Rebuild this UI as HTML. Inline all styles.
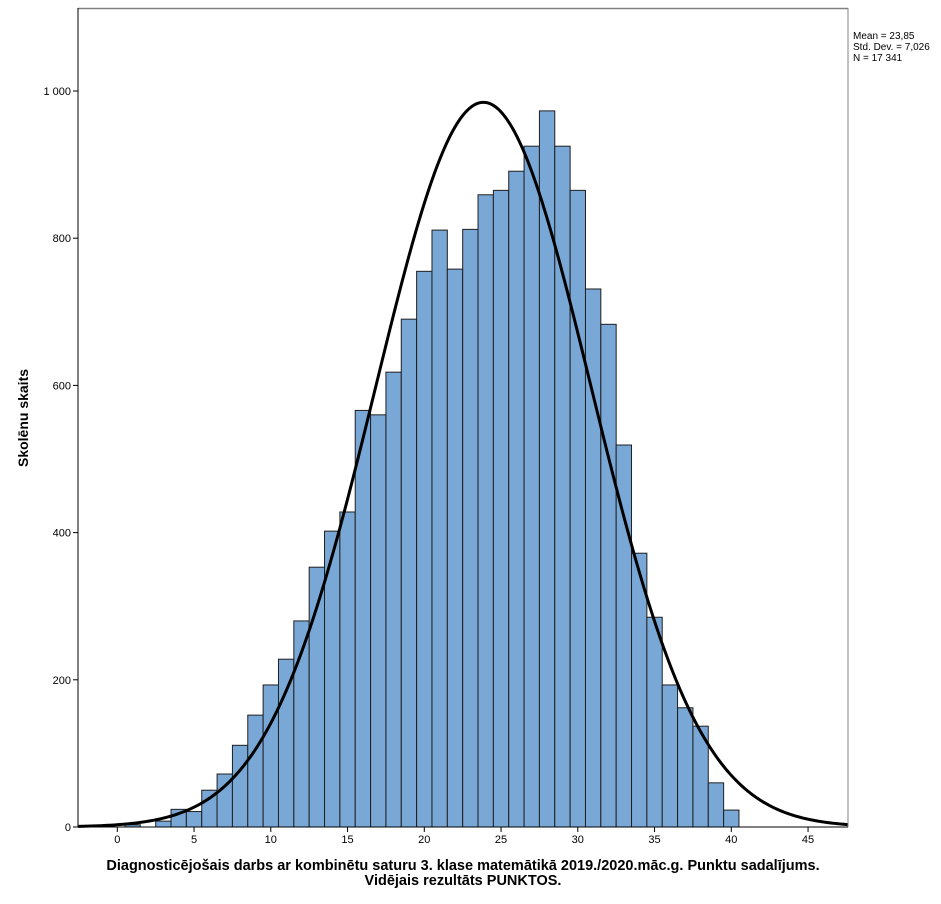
<!DOCTYPE html>
<html><head><meta charset="utf-8"><style>
body{margin:0;background:#fff}
svg{display:block;font-family:"Liberation Sans",Arial,sans-serif}
</style></head><body>
<svg id="s" width="941" height="904" viewBox="0 0 941 904" xmlns="http://www.w3.org/2000/svg">
<rect x="0" y="0" width="941" height="904" fill="#fff"/>
<g id="bars" fill="#79a7d6" stroke="#1f1f1f" stroke-width="1"></g>
<path id="curve" fill="none" stroke="#000" stroke-width="3"/>
<line x1="78" y1="8.5" x2="848" y2="8.5" stroke="#808080" stroke-width="1.5"/>
<line x1="848" y1="8" x2="848" y2="827" stroke="#808080" stroke-width="1"/>
<line x1="78" y1="8" x2="78" y2="827" stroke="#000" stroke-width="1"/>
<line x1="78" y1="827" x2="848" y2="827" stroke="#000" stroke-width="1"/>
<g id="ticks" stroke="#000" stroke-width="1"></g>
<g id="labels" font-size="11" fill="#000"></g>
<text x="28" y="418" font-size="14" font-weight="bold" text-anchor="middle" transform="rotate(-90 28 418)">Skolēnu skaits</text>
<text x="463" y="870" font-size="14.5" font-weight="bold" text-anchor="middle">Diagnosticējošais darbs ar kombinētu saturu 3. klase matemātikā 2019./2020.māc.g. Punktu sadalījums.</text>
<text x="463" y="885" font-size="14.5" font-weight="bold" text-anchor="middle">Vidējais rezultāts PUNKTOS.</text>
<text x="853" y="39" font-size="10">Mean = 23,85</text>
<text x="853" y="50" font-size="10">Std. Dev. = 7,026</text>
<text x="853" y="61" font-size="10">N = 17 341</text>
</svg>
<script>
var X0=117.3,SX=15.35,Y0=827,SY=0.736,NS="http://www.w3.org/2000/svg";
function px(v){return X0+v*SX}function py(v){return Y0-v*SY}
var d={1:3,3:8,4:24,5:21,6:50,7:72,8:111,9:152,10:193,11:228,12:280,13:353,14:402,15:428,16:566,17:560,18:618,19:690,20:755,21:811,22:758,23:812,24:859,25:865,26:891,27:925,28:973,29:925,30:865,31:731,32:683,33:519,34:372,35:285,36:193,37:162,38:137,39:60,40:23};
var g=document.getElementById("bars");
for(var k in d){var v=+k,r=document.createElementNS(NS,"rect");
r.setAttribute("x",px(v-0.5));r.setAttribute("width",SX);r.setAttribute("y",py(d[k]));r.setAttribute("height",d[k]*SY);g.appendChild(r);}
var p="",m=23.85,s=7.026,A=17341/(s*Math.sqrt(2*Math.PI));
for(var x=78;x<=848;x+=2){var v=(x-X0)/SX,y=A*Math.exp(-(v-m)*(v-m)/(2*s*s));p+=(x==78?"M":"L")+x+","+py(y).toFixed(2);}
document.getElementById("curve").setAttribute("d",p);
var t=document.getElementById("ticks"),l=document.getElementById("labels");
function ln(a,b,c,e){var q=document.createElementNS(NS,"line");q.setAttribute("x1",a);q.setAttribute("y1",b);q.setAttribute("x2",c);q.setAttribute("y2",e);t.appendChild(q);}
function tx(x,y,s,a){var q=document.createElementNS(NS,"text");q.setAttribute("x",x);q.setAttribute("y",y);q.setAttribute("text-anchor",a);q.textContent=s;l.appendChild(q);}
for(var i=0;i<=45;i+=5){ln(px(i),827,px(i),832);tx(px(i),843,""+i,"middle");}
var yl=["0","200","400","600","800","1 000"];
for(var j=0;j<=5;j++){var yy=py(j*200);ln(73,yy,78,yy);tx(71,yy+4,yl[j],"end");}
</script>
</body></html>
